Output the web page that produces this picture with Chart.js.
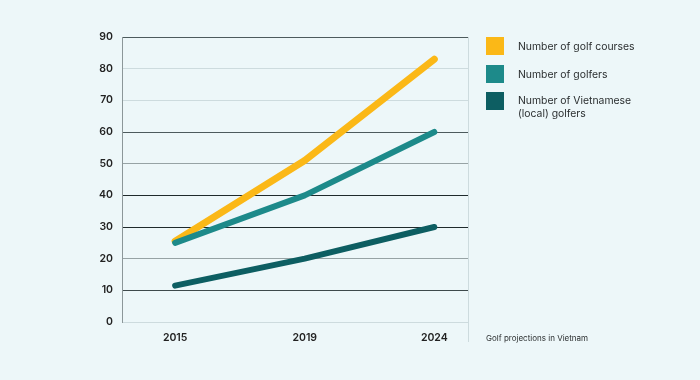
<!DOCTYPE html>
<html>
<head>
<meta charset="utf-8">
<script src="https://cdn.jsdelivr.net/npm/chart.js@4/dist/chart.umd.min.js"></script>
<style>
  html, body { margin: 0; padding: 0; background: #edf7f9; }
  #wrap { position: relative; width: 700px; height: 380px; background: #edf7f9; font-family: Inter, "Open Sans", sans-serif; }
  canvas { position: absolute; left: 0; top: 0; }
  .leg { position: absolute; left: 486px; color: #2b2f30; font-size: 10.4px; line-height: 13px; }
  .leg .box { position: absolute; left: 0; width: 18px; height: 18px; }
  .leg .txt { position: absolute; left: 32px; white-space: nowrap; }
  #caption { position: absolute; left: 486px; top: 333px; font-size: 8px; color: #2b2f30; white-space: nowrap; }
</style>
</head>
<body>
<div id="wrap">
  <canvas id="c" width="700" height="380"></canvas>
  <div id="legend"></div>
  <div id="caption"></div>
</div>
<script>
const years = ['2015', '2019', '2024'];
const golfCourses = [25.5, 51, 83];
const golfers = [25, 40, 60];
const localGolfers = [11.5, 20, 30];
const seriesNames = ['Number of golf courses', 'Number of golfers', ['Number of Vietnamese', '(local) golfers']];
const seriesColors = ['#fbb817', '#1d8a8a', '#0d5e62'];
const yTicks = [0, 10, 20, 30, 40, 50, 60, 70, 80, 90];
const captionText = 'Golf projections in Vietnam';

const gridColors = {90:'#4d5b5d',80:'#cddbde',70:'#cddbde',60:'#4d5b5d',50:'#97a3a5',40:'#1f2a2c',30:'#1f2a2c',20:'#97a3a5',10:'#3e4a4c',0:'#cddbde'};

const X_MIN = -0.41, X_MAX = 2.26;

const toPts = arr => arr.map((v, i) => ({x: i, y: v}));
const allSeries = [golfCourses, golfers, localGolfers];

const datasets = allSeries.map((arr, i) => ({
  label: Array.isArray(seriesNames[i]) ? seriesNames[i].join(' ') : seriesNames[i],
  data: toPts(arr),
  borderColor: seriesColors[i],
  backgroundColor: seriesColors[i],
  borderWidth: i === 0 ? 7 : 6,
  borderCapStyle: 'round',
  borderJoinStyle: 'round',
  pointRadius: 0,
  tension: 0,
  fill: false
})).reverse();

new Chart(document.getElementById('c'), {
  type: 'line',
  data: { datasets },
  options: {
    responsive: false,
    animation: false,
    layout: { padding: { top: 37, right: 232, left: 0, bottom: 0 } },
    plugins: { legend: { display: false }, tooltip: { enabled: false } },
    scales: {
      x: {
        type: 'linear',
        min: X_MIN,
        max: X_MAX,
        afterBuildTicks: s => { s.ticks = [{value: 0}, {value: 1}, {value: 2}, {value: X_MAX}]; },
        afterFit: s => { s.height = 58; },
        border: { display: false },
        grid: {
          color: ctx => (ctx.tick && ctx.tick.value === X_MAX) ? '#cddbde' : 'rgba(0,0,0,0)',
          lineWidth: 1,
          drawTicks: true,
          tickLength: 20,
          tickColor: ctx => (ctx.tick && ctx.tick.value === X_MAX) ? '#cddbde' : 'rgba(0,0,0,0)'
        },
        ticks: {
          padding: -10,
          color: '#222',
          font: { family: 'Inter', size: 10.5, weight: '600' },
          callback: v => years[v] !== undefined && Number.isInteger(v) ? years[v] : '',
          maxRotation: 0,
          autoSkip: false
        }
      },
      y: {
        min: 0,
        max: 90,
        afterBuildTicks: s => { s.ticks = yTicks.map(v => ({value: v})); },
        afterFit: s => { s.width = 122; },
        border: { display: true, color: '#8c9799', width: 1 },
        grid: {
          drawTicks: false,
          color: ctx => gridColors[ctx.tick ? ctx.tick.value : 0] || '#cddbde',
          lineWidth: 1
        },
        ticks: {
          padding: 9,
          color: '#222',
          font: { family: 'Inter', size: 10.5, weight: '600' }
        }
      }
    }
  }
});

// HTML legend & caption
const legendTops = [37, 65, 92];
const legendEl = document.getElementById('legend');
seriesNames.forEach((name, i) => {
  const row = document.createElement('div');
  row.className = 'leg';
  row.style.top = legendTops[i] + 'px';
  const box = document.createElement('div');
  box.className = 'box';
  box.style.background = seriesColors[i];
  const txt = document.createElement('div');
  txt.className = 'txt';
  const lines = Array.isArray(name) ? name : [name];
  txt.style.top = lines.length > 1 ? '2px' : '3px';
  txt.innerHTML = lines.join('<br>');
  row.appendChild(box);
  row.appendChild(txt);
  legendEl.appendChild(row);
});
document.getElementById('caption').textContent = captionText;
</script>
</body>
</html>
